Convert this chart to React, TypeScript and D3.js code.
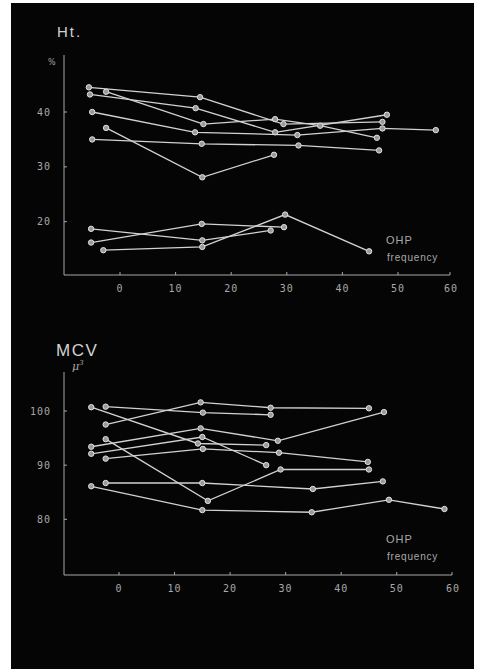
import React from 'react';
import * as d3 from 'd3';

const W = 478;
const H = 671;

// OHP frequency ticks and the y ticks of both panels
const xTicks = [0, 10, 20, 30, 40, 50, 60];
const htTicks = [20, 30, 40];
const mcvTicks = [80, 90, 100];

// Ht (%) per patient, points are [OHP frequency, value]
const ht1 = [[-5.6, 44.5], [14.4, 42.7], [29.4, 37.8], [47.2, 38.2]];
const ht2 = [[-5.4, 43.2], [13.6, 40.7], [27.9, 36.3], [48, 39.5]];
const ht3 = [[-2.5, 43.7], [15, 37.8], [27.9, 38.7], [36, 37.5], [46.2, 35.3]];
const ht4 = [[-5, 40], [13.5, 36.3], [31.9, 35.8], [47.2, 37.0], [56.8, 36.7]];
const ht5 = [[-5, 35], [14.7, 34.2], [32.1, 33.9], [46.6, 33]];
const ht6 = [[-2.5, 37.1], [14.8, 28.1], [27.7, 32.2]];
const ht7 = [[-5.2, 18.7], [14.8, 16.6], [27.1, 18.4]];
const ht8 = [[-5.2, 16.2], [14.7, 19.6], [29.5, 19.0]];
const ht9 = [[-3, 14.8], [14.8, 15.4], [29.7, 21.3], [44.8, 14.6]];

// MCV (u^3) per patient
const mcv1 = [[-2.4, 97.5], [14.7, 101.6], [27.3, 100.6], [45, 100.5]];
const mcv2 = [[-2.4, 100.8], [15.1, 99.7], [27.3, 99.3]];
const mcv3 = [[-5, 100.7], [14.2, 94.0], [26.5, 93.7]];
const mcv4 = [[-2.4, 94.8], [16, 83.4], [29.1, 89.2], [45, 89.2]];
const mcv5 = [[-5, 93.4], [14.7, 96.8], [28.6, 94.5], [47.7, 99.8]];
const mcv6 = [[-5, 92.1], [15, 95.2], [26.5, 90.0]];
const mcv7 = [[-2.4, 91.2], [15.1, 93.0], [28.8, 92.3], [44.8, 90.6]];
const mcv8 = [[-2.4, 86.7], [15, 86.7], [34.9, 85.6], [47.5, 87.0]];
const mcv9 = [[-5, 86.1], [15, 81.7], [34.7, 81.3], [48.6, 83.6], [58.6, 81.9]];

const htSeries = [ht1, ht2, ht3, ht4, ht5, ht6, ht7, ht8, ht9];
const mcvSeries = [mcv1, mcv2, mcv3, mcv4, mcv5, mcv6, mcv7, mcv8, mcv9];

const ink = '#d2d2d2';
const dim = '#a8a8a8';

type Box = { left: number; right: number; top: number; bottom: number };

function Panel({ series, yTicks, x, y, box, labelY, ohpY }: {
  series: number[][][];
  yTicks: number[];
  x: d3.ScaleLinear<number, number>;
  y: d3.ScaleLinear<number, number>;
  box: Box;
  labelY: number;
  ohpY: number;
}) {
  const line = d3.line<number[]>().x(d => x(d[0])).y(d => y(d[1]));
  return (
    <g>
      <line x1={box.left} x2={box.left} y1={box.top} y2={box.bottom} stroke={dim} strokeWidth={1} />
      <line x1={box.left} x2={box.right} y1={box.bottom} y2={box.bottom} stroke={dim} strokeWidth={1} />
      <line x1={box.right} x2={box.right} y1={box.bottom} y2={box.bottom - 3} stroke={dim} />
      {yTicks.map(t => (
        <g key={t}>
          <line x1={box.left} x2={box.left + 3} y1={y(t)} y2={y(t)} stroke={dim} />
          <text x={51} y={y(t)} dy="0.35em" textAnchor="end" fontSize={10} letterSpacing={1}
            fontFamily="DejaVu Sans Mono" fill={dim}>{t}</text>
        </g>
      ))}
      {xTicks.map(t => (
        <g key={t}>
          {t < 60 && <line x1={x(t)} x2={x(t)} y1={box.bottom} y2={box.bottom - 3} stroke={dim} />}
          <text x={t < 60 ? x(t) : box.right + 1} y={labelY} dy="0.35em" textAnchor="middle" fontSize={10}
            letterSpacing={1} fontFamily="DejaVu Sans Mono" fill={dim}>{t}</text>
        </g>
      ))}
      {series.map((s, i) => (
        <path key={i} d={line(s) || ''} fill="none" stroke={ink} strokeWidth={1.3} />
      ))}
      {series.map((s, i) => s.map((p, j) => (
        <circle key={i + '-' + j} cx={x(p[0])} cy={y(p[1])} r={2.7}
          fill="#9a9a9a" stroke="#e2e2e2" strokeWidth={1} />
      )))}
      <text x={386} y={ohpY} fontSize={11} fontFamily="Liberation Sans" fill={dim} letterSpacing={1}>OHP</text>
      <text x={387} y={ohpY + 17} fontSize={10} fontFamily="Liberation Sans" fill={dim} letterSpacing={0.8}>frequency</text>
    </g>
  );
}

export default function App() {
  const htX = d3.scaleLinear().domain([0, 50]).range([120, 398]);
  const htY = d3.scaleLinear().domain([20, 40]).range([221.7, 112]);
  const mcvX = d3.scaleLinear().domain([0, 50]).range([119, 396.7]);
  const mcvY = d3.scaleLinear().domain([80, 100]).range([519.3, 411]);

  return (
    <svg width={W} height={H} style={{ position: 'absolute', left: 0, top: 0 }}>
      <rect x={0} y={0} width={W} height={H} fill="#fff" />
      <rect x={11} y={3} width={463} height={666} fill="#050505" />

      <text x={57} y={37} fontSize={15} fontFamily="Liberation Sans" fill={ink} letterSpacing={2}>Ht.</text>
      <text x={48} y={65} fontSize={8} fontFamily="DejaVu Sans" fill={dim}>%</text>
      <Panel series={htSeries} yTicks={htTicks} x={htX} y={htY}
        box={{ left: 64, right: 450, top: 55, bottom: 275 }} labelY={288.5} ohpY={244} />

      <text x={56} y={356} fontSize={17} fontFamily="Liberation Sans" fill={ink} letterSpacing={1.5}>MCV</text>
      <text x={72} y={370} fontSize={11} fontStyle="italic" fontFamily="DejaVu Serif" fill={dim}>
        μ<tspan fontSize={7} dy={-5}>3</tspan>
      </text>
      <Panel series={mcvSeries} yTicks={mcvTicks} x={mcvX} y={mcvY}
        box={{ left: 64, right: 452, top: 372, bottom: 575 }} labelY={588} ohpY={543} />
    </svg>
  );
}
